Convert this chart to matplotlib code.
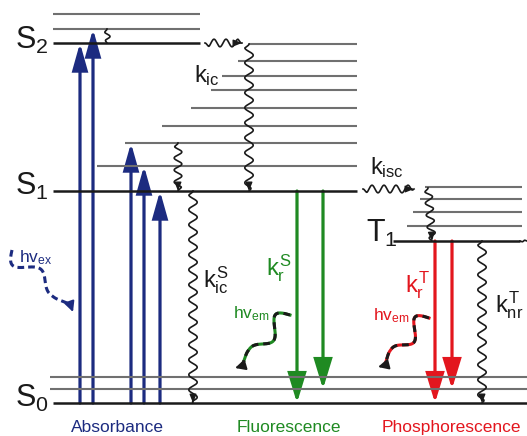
import numpy as np
import matplotlib
matplotlib.use("Agg")
import matplotlib.pyplot as plt
from matplotlib.patches import FancyArrowPatch

plt.rcParams['font.family'] = ['Liberation Sans', 'DejaVu Sans']
plt.rcParams['mathtext.fontset'] = 'custom'
plt.rcParams['mathtext.rm'] = 'Liberation Sans'
plt.rcParams['mathtext.it'] = 'Liberation Sans'

NAVY = '#1c2b80'
GREEN = '#1f8a22'
RED = '#e3161e'
GRAY = '#707070'
BLACK = '#1a1a1a'

# energy levels (y in image pixels, x start, x end)
s0_main = (403, 53, 527)
s0_vib_y = [377, 389]
s2_main = (43, 53, 200)
s2_vib_y = [29, 14]
s1_main = (191, 53, 357)
s1_vib_y = [44, 61, 76, 90, 108, 126, 143, 166]
s1_vib_x0 = [249, 238, 222, 211, 191, 162, 125, 97]
t1_main = (241, 393, 520)
t1_vib_y = [187, 199, 212, 226]
t1_vib_x0 = [425, 420, 413, 407]

# radiative transitions
abs_x = [80, 93, 131, 144, 160]
abs_top = [43, 29, 143, 166, 191]
fluo_x = [297, 323]
fluo_end = [403, 389]
phos_x = [435, 452]
phos_end = [403, 389]

# non-radiative (wavy) transitions: x0, y0, x1, y1
nonrad = [(107, 29, 107, 43), (249, 44, 249, 191), (178, 143, 178, 191),
          (193, 191, 193, 403), (428, 188, 432, 241), (482, 241, 482, 403),
          (205, 43, 242, 43), (363, 189, 414, 189)]

# photon arrows: start, end, colour
photons = [((12, 250), (73, 312), NAVY, None),
           ((290, 315), (235, 368), GREEN, BLACK),
           ((429, 318), (378, 367), RED, BLACK)]

fig = plt.figure(figsize=(5.27, 4.36), dpi=100)
ax = fig.add_axes([0, 0, 1, 1])
ax.set_xlim(0, 527)
ax.set_ylim(436, 0)
ax.axis('off')


def hline(y, x0, x1, color, lw):
    ax.plot([x0, x1], [y, y], color=color, lw=lw, solid_capstyle='butt')


for y in s0_vib_y:
    hline(y, 50, 527, GRAY, 1.5)
hline(*s0_main, BLACK, 1.8)
for y in s2_vib_y:
    hline(y, 53, 200, GRAY, 1.5)
hline(*s2_main, BLACK, 1.8)
for y, x0 in zip(s1_vib_y, s1_vib_x0):
    hline(y, x0, 357, GRAY, 1.5)
hline(*s1_main, BLACK, 1.8)
for y, x0 in zip(t1_vib_y, t1_vib_x0):
    hline(y, x0, 522, GRAY, 1.5)
hline(*t1_main, BLACK, 1.8)


def wavy(x0, y0, x1, y1, period=13, amp=3.5, arrow=True, color=BLACK, lw=1.2):
    L = np.hypot(x1 - x0, y1 - y0)
    t = np.linspace(0, 1, 300)
    ux, uy = (x1 - x0) / L, (y1 - y0) / L
    nx, ny = -uy, ux
    s = t * L
    env = np.clip(np.minimum(s, L - s) / 4, 0, 1)
    off = amp * np.sin(2 * np.pi * s / period) * env
    xs = x0 + ux * s + nx * off
    ys = y0 + uy * s + ny * off
    ax.plot(xs, ys, color=color, lw=lw)
    if arrow:
        ax.annotate('', xy=(x1, y1), xytext=(x1 - ux * 4, y1 - uy * 4),
                    arrowprops=dict(arrowstyle='-|>,head_length=0.5,head_width=0.2',
                                    mutation_scale=10, color=color, lw=1, shrinkA=0, shrinkB=0))


for (x0, y0, x1, y1) in nonrad:
    L = np.hypot(x1 - x0, y1 - y0)
    if L > 100:
        wavy(x0, y0, x1, y1, period=15, amp=4.2)
    elif L > 20:
        wavy(x0, y0, x1, y1, period=12, amp=3.8)
    else:
        wavy(x0, y0, x1, y1, period=10, amp=3, arrow=False)
# little wiggle at right end of T1
wavy(520, 241, 527, 241, period=7, amp=1.5, arrow=False)


def straight(x, y0, y1, color, hl, hw, lw):
    ax.add_patch(FancyArrowPatch((x, y0), (x, y1),
                                 arrowstyle='-|>,head_length=%g,head_width=%g' % (hl, hw),
                                 mutation_scale=10, color=color, lw=lw,
                                 shrinkA=0, shrinkB=0, joinstyle='miter'))


for x, top in zip(abs_x, abs_top):
    straight(x, 403, top, NAVY, 1.6, 0.45, 2.3)
for x, end in zip(fluo_x, fluo_end):
    straight(x, 191, end, GREEN, 1.8, 0.55, 2.3)
for x, end in zip(phos_x, phos_end):
    straight(x, 241, end, RED, 1.8, 0.55, 2.3)


def photon(p0, p1, color, dash_color):
    (x0, y0), (x1, y1) = p0, p1
    L = np.hypot(x1 - x0, y1 - y0)
    ux, uy = (x1 - x0) / L, (y1 - y0) / L
    nx, ny = -uy, ux
    s = np.linspace(0, L * 0.92, 200)
    off = 12 * np.sin(2 * np.pi * s / (L * 0.55)) * np.clip(1 - s / L, 0.3, 1)
    xs = x0 + ux * s + nx * off
    ys = y0 + uy * s + ny * off
    if dash_color is None:
        ax.plot(xs, ys, color=color, lw=2.2, ls=(0, (2.2, 1.3)))
        hc = color
    else:
        ax.plot(xs, ys, color=color, lw=2.2)
        ax.plot(xs, ys, color=dash_color, lw=2.2, ls=(0, (2.2, 1.6)))
        hc = dash_color
    ax.annotate('', xy=(x1, y1), xytext=(xs[-1], ys[-1]),
                arrowprops=dict(arrowstyle='-|>,head_length=0.6,head_width=0.3',
                                mutation_scale=10, color=hc, lw=1.5, shrinkA=0, shrinkB=0))


for p0, p1, c, dc in photons:
    photon(p0, p1, c, dc)

# state labels
big = dict(fontsize=22, color=BLACK, va='center', ha='left')
ax.text(15, 40, r'S$_2$', **big)
ax.text(15, 186, r'S$_1$', **big)
ax.text(15, 398, r'S$_0$', **big)
ax.text(366, 233, r'T$_1$', **big)

# rate labels
ax.text(194, 76, r'$k_{ic}$', fontsize=17, color=BLACK, va='center')
ax.text(370, 168, r'$k_{isc}$', fontsize=17, color=BLACK, va='center')
ax.text(203, 280, r'$k^S_{ic}$', fontsize=17, color=BLACK, va='center')
ax.text(266, 268, r'$k^S_r$', fontsize=17, color=GREEN, va='center')
ax.text(405, 285, r'$k^T_r$', fontsize=17, color=RED, va='center')
ax.text(495, 305, r'$k^T_{nr}$', fontsize=17, color=BLACK, va='center')

ax.text(19, 258, r'hv$_{ex}$', fontsize=12.5, color=NAVY, va='center')
ax.text(233, 314, r'hv$_{em}$', fontsize=12.5, color=GREEN, va='center')
ax.text(373, 316, r'hv$_{em}$', fontsize=12.5, color=RED, va='center')

# bottom labels
ax.text(117, 427, 'Absorbance', fontsize=12.5, color=NAVY, ha='center', va='center')
ax.text(289, 427, 'Fluorescence', fontsize=12.5, color=GREEN, ha='center', va='center')
ax.text(451, 427, 'Phosphorescence', fontsize=12.5, color=RED, ha='center', va='center')

fig.savefig('out.png', dpi=100)
